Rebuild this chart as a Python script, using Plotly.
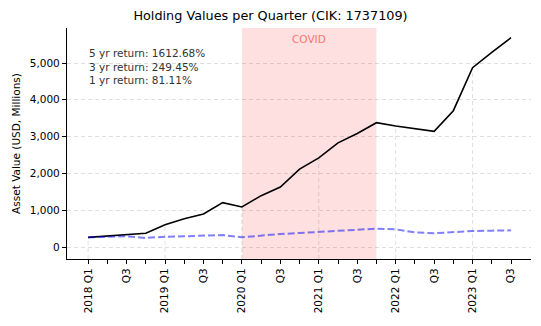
import plotly.graph_objects as go

quarters = [f"{y} Q{q}" for y in range(2018, 2024) for q in range(1, 5)][:23]
total_values = [262, 300, 332, 372, 607, 770, 897, 1205, 1087, 1395, 1628,
                2115, 2420, 2830, 3085, 3378, 3288, 3216, 3142, 3704, 4873, 5290, 5690]
other_values = [263, 280, 290, 245, 280, 290, 299, 326, 263, 317, 353,
                380, 408, 444, 453, 498, 480, 399, 372, 408, 435, 444, 453]
covid_start, covid_end = "2020 Q1", "2021 Q4"
returns_text = ["5 yr return: 1612.68%", "3 yr return: 249.45%", "1 yr return: 81.11%"]
title = "Holding Values per Quarter (CIK: 1737109)"
y_range = [-326, 5951]

xs = list(range(len(quarters)))
ticktext = []
for q in quarters:
    yr, qq = q.split()
    if qq == "Q1":
        ticktext.append(q)
    elif qq == "Q3":
        ticktext.append("Q3")
    else:
        ticktext.append("")

fig = go.Figure()
fig.add_trace(go.Scatter(x=xs, y=total_values, mode="lines",
                         line=dict(color="black", width=1.6), showlegend=False))
fig.add_trace(go.Scatter(x=xs, y=other_values, mode="lines",
                         line=dict(color="rgba(0,0,255,0.5)", width=2, dash="7px,3px"),
                         showlegend=False))

grid_col = "rgba(0,0,0,0.13)"
fig.add_shape(type="rect", xref="x", yref="paper",
              x0=quarters.index(covid_start), x1=quarters.index(covid_end),
              y0=0, y1=1, fillcolor="rgba(255,0,0,0.12)", line_width=0, layer="below")
for i, q in enumerate(quarters):
    if q.endswith("Q1"):
        fig.add_shape(type="line", xref="x", yref="y", x0=i, x1=i,
                      y0=y_range[0], y1=total_values[i],
                      line=dict(color=grid_col, width=1, dash="4px,3px"), layer="below")

fig.add_annotation(x=(quarters.index(covid_start) + quarters.index(covid_end)) / 2,
                   xref="x", yref="paper", y=0.985, yanchor="top",
                   text="COVID", showarrow=False,
                   font=dict(family="DejaVu Sans", size=10.5, color="rgba(255,90,90,0.85)"))
fig.add_annotation(x=0.043, y=0.832, xref="paper", yref="paper",
                   xanchor="left", yanchor="middle",
                   text="<br>".join(returns_text), showarrow=False, align="left",
                   font=dict(family="DejaVu Sans", size=10.5, color="#333333"))

fig.update_layout(
    width=541, height=326,
    margin=dict(l=67, r=10, t=28, b=67),
    paper_bgcolor="white", plot_bgcolor="white",
    font=dict(family="DejaVu Sans", size=10.5, color="black"),
    title=dict(text=title, x=0.5, xanchor="center", y=0.965, yanchor="top",
               font=dict(size=12.8, color="black")),
    xaxis=dict(range=[-1.1, 23.04], tickmode="array", tickvals=xs, ticktext=ticktext,
               tickangle=-90, ticks="outside", ticklen=4, tickcolor="black",
               showgrid=False, zeroline=False, showline=True, linecolor="black",
               linewidth=1.2, mirror=False),
    yaxis=dict(range=y_range, tickvals=[0, 1000, 2000, 3000, 4000, 5000],
               tickformat=",", ticks="outside", ticklen=4, tickcolor="black",
               showgrid=True, gridcolor=grid_col, griddash="4px,3px", gridwidth=1,
               zeroline=False, showline=True, linecolor="black", linewidth=1.2,
               title=dict(text="Asset Value (USD, Millions)", standoff=7,
                          font=dict(size=10.5))),
)

fig.write_html("out.html")
